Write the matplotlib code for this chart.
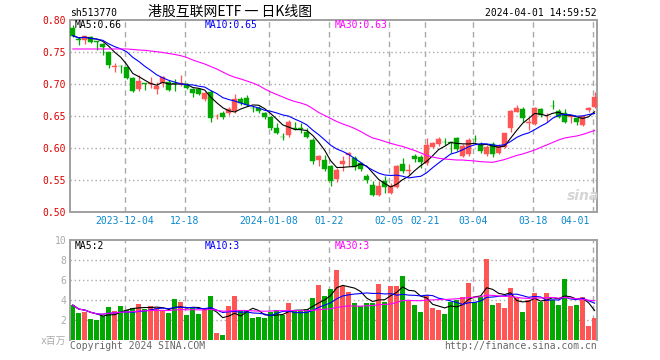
import numpy as np
import pandas as pd
import matplotlib
matplotlib.use('Agg')
import matplotlib.pyplot as plt
from matplotlib.transforms import blended_transform_factory

# daily candles
opens = [0.7875, 0.7710, 0.7690, 0.7744, 0.7670, 0.7630, 0.7500, 0.7270, 0.7290, 0.7266,
         0.7100, 0.6922, 0.7016, 0.7000, 0.6926, 0.7016, 0.7031, 0.7016, 0.7010, 0.7010,
         0.6922, 0.6922, 0.6766, 0.6885, 0.6500, 0.6557, 0.6547, 0.6583, 0.6765, 0.6781,
         0.6636, 0.6636, 0.6547, 0.6484, 0.6323, 0.6183, 0.6203, 0.6313, 0.6310, 0.6261,
         0.6132, 0.5820, 0.5820, 0.5716, 0.5518, 0.5752, 0.5898, 0.5846, 0.5768, 0.5570,
         0.5430, 0.5268, 0.5492, 0.5300, 0.5393, 0.5757, 0.5648, 0.5880, 0.5870, 0.5767,
         0.6027, 0.6063, 0.6097, 0.6094, 0.6167, 0.5886, 0.5912, 0.6149, 0.6053, 0.5912,
         0.6063, 0.5923, 0.6027, 0.6323, 0.6573, 0.6614, 0.6401, 0.6375, 0.6609, 0.6505,
         0.6661, 0.6583, 0.6547, 0.6490, 0.6469, 0.6365, 0.6599, 0.6651]
highs = [0.7927, 0.7745, 0.7755, 0.7760, 0.7680, 0.7650, 0.7510, 0.7330, 0.7300, 0.7280,
         0.7115, 0.7145, 0.7020, 0.7110, 0.7040, 0.7125, 0.7073, 0.7080, 0.7150, 0.7025,
         0.6940, 0.6935, 0.6885, 0.6911, 0.6536, 0.6589, 0.6651, 0.6849, 0.6807, 0.6833,
         0.6667, 0.6667, 0.6573, 0.6505, 0.6391, 0.6234, 0.6443, 0.6417, 0.6391, 0.6313,
         0.6158, 0.5898, 0.5898, 0.5742, 0.5690, 0.5872, 0.5939, 0.5872, 0.5778, 0.5601,
         0.5492, 0.5482, 0.5560, 0.5450, 0.5742, 0.5846, 0.5752, 0.5908, 0.5900, 0.6157,
         0.6094, 0.6183, 0.6157, 0.6115, 0.6183, 0.6063, 0.6157, 0.6209, 0.6094, 0.6053,
         0.6094, 0.6063, 0.6245, 0.6599, 0.6677, 0.6651, 0.6469, 0.6651, 0.6625, 0.6557,
         0.6755, 0.6614, 0.6614, 0.6521, 0.6479, 0.6521, 0.6651, 0.6875]
lows = [0.7740, 0.7615, 0.7630, 0.7650, 0.7540, 0.7450, 0.7260, 0.7200, 0.7170, 0.7080,
        0.6885, 0.6895, 0.6910, 0.6937, 0.6850, 0.6960, 0.6895, 0.6895, 0.6980, 0.6930,
        0.6807, 0.6840, 0.6745, 0.6417, 0.6453, 0.6458, 0.6521, 0.6557, 0.6677, 0.6661,
        0.6573, 0.6547, 0.6458, 0.6286, 0.6224, 0.6130, 0.6177, 0.6286, 0.6245, 0.6156,
        0.5757, 0.5726, 0.5653, 0.5404, 0.5466, 0.5653, 0.5726, 0.5664, 0.5653, 0.5456,
        0.5248, 0.5248, 0.5300, 0.5280, 0.5378, 0.5612, 0.5586, 0.5783, 0.5690, 0.5741,
        0.6011, 0.6042, 0.6053, 0.5923, 0.5964, 0.5871, 0.5886, 0.6105, 0.5923, 0.5886,
        0.5871, 0.5907, 0.6011, 0.6261, 0.6562, 0.6417, 0.6287, 0.6365, 0.6495, 0.6417,
        0.6614, 0.6469, 0.6391, 0.6391, 0.6365, 0.6349, 0.6573, 0.6635]
closes = [0.7760, 0.7690, 0.7755, 0.7666, 0.7660, 0.7590, 0.7300, 0.7280, 0.7280, 0.7094,
          0.6895, 0.7052, 0.7000, 0.7015, 0.6973, 0.7119, 0.6911, 0.7000, 0.7020, 0.6947,
          0.6869, 0.6850, 0.6860, 0.6469, 0.6510, 0.6484, 0.6609, 0.6765, 0.6703, 0.6677,
          0.6630, 0.6589, 0.6495, 0.6323, 0.6245, 0.6177, 0.6417, 0.6308, 0.6305, 0.6183,
          0.5794, 0.5882, 0.5679, 0.5482, 0.5664, 0.5804, 0.5924, 0.5705, 0.5674, 0.5508,
          0.5274, 0.5404, 0.5393, 0.5404, 0.5716, 0.5638, 0.5658, 0.5840, 0.5790, 0.6053,
          0.6079, 0.6141, 0.6092, 0.6089, 0.5985, 0.6042, 0.6131, 0.6144, 0.5964, 0.6027,
          0.5907, 0.6042, 0.6235, 0.6583, 0.6625, 0.6469, 0.6412, 0.6635, 0.6521, 0.6510,
          0.6656, 0.6495, 0.6417, 0.6495, 0.6406, 0.6510, 0.6635, 0.6807]
# 30-day average
ma30_price = [0.7552, 0.7552, 0.7552, 0.7552, 0.7552, 0.7552, 0.7552, 0.7552, 0.7552, 0.7552,
              0.7544, 0.7536, 0.7531, 0.7520, 0.7509, 0.7497, 0.7481, 0.7466, 0.7447, 0.7419,
              0.7380, 0.7348, 0.7317, 0.7278, 0.7239, 0.7192, 0.7145, 0.7110, 0.7083, 0.7052,
              0.7020, 0.6981, 0.6927, 0.6880, 0.6841, 0.6802, 0.6763, 0.6731, 0.6708, 0.6677,
              0.6622, 0.6559, 0.6513, 0.6466, 0.6419, 0.6380, 0.6348, 0.6309, 0.6263, 0.6208,
              0.6161, 0.6138, 0.6106, 0.6078, 0.6052, 0.6028, 0.5997, 0.5966, 0.5927, 0.5888,
              0.5864, 0.5844, 0.5833, 0.5825, 0.5817, 0.5817, 0.5809, 0.5802, 0.5791, 0.5786,
              0.5781, 0.5802, 0.5825, 0.5856, 0.5888, 0.5911, 0.5942, 0.5973, 0.6013, 0.6052,
              0.6091, 0.6130, 0.6161, 0.6177, 0.6192, 0.6216, 0.6247, 0.6278]
# volume, millions
volumes = [3.5, 2.7, 2.8, 2.1, 2.0, 2.4, 3.3, 2.9, 3.4, 3.0,
           3.2, 3.6, 3.1, 3.4, 3.2, 2.9, 2.7, 4.1, 3.8, 2.5,
           3.3, 2.6, 3.0, 4.4, 0.7, 0.5, 3.4, 4.4, 3.0, 2.9,
           2.2, 2.3, 2.2, 2.8, 3.0, 2.5, 3.7, 2.9, 2.9, 3.1,
           4.2, 5.5, 4.4, 5.1, 7.0, 5.4, 4.8, 3.7, 3.4, 3.7,
           3.7, 5.6, 3.8, 5.4, 5.4, 6.4, 3.9, 3.5, 2.8, 4.5,
           3.2, 3.0, 2.6, 3.8, 4.0, 4.3, 5.7, 3.8, 4.3, 8.1,
           3.5, 3.7, 3.2, 5.2, 4.2, 2.8, 4.0, 4.7, 3.8, 4.7,
           4.0, 3.5, 6.1, 3.4, 3.5, 4.3, 1.4, 2.2]

holidays = ['2024-01-01', '2024-02-09', '2024-02-12', '2024-02-13',
            '2024-02-14', '2024-02-15', '2024-02-16']
tick_dates = ['2023-12-04', '2023-12-18', '2024-01-08', '2024-01-22', '2024-02-05',
              '2024-02-21', '2024-03-04', '2024-03-18', '2024-04-01']
tick_labels = ['2023-12-04', '12-18', '2024-01-08', '01-22', '02-05',
               '02-21', '03-04', '03-18', '04-01']
price_ticks = [0.50, 0.55, 0.60, 0.65, 0.70, 0.75, 0.80]
vol_ticks = [0, 2, 4, 6, 8, 10]
vol_tick_labels = ['x百万', '2', '4', '6', '8', '10']

dates = pd.bdate_range('2023-11-21', '2024-04-01')
dates = dates[~dates.isin(pd.to_datetime(holidays))]
x = np.arange(len(dates))
tick_pos = [dates.get_loc(pd.Timestamp(d)) for d in tick_dates]

o, h, l, c = map(np.array, (opens, highs, lows, closes))
vol = np.array(volumes)
RED, GREEN = '#ff5555', '#00a800'
cols = np.where(c >= o, RED, GREEN)

ma5 = pd.Series(c).rolling(5, min_periods=1).mean()
ma10 = pd.Series(c).rolling(10, min_periods=1).mean()
vma5 = pd.Series(vol).rolling(5, min_periods=1).mean()
vma10 = pd.Series(vol).rolling(10, min_periods=1).mean()
vma30 = pd.Series(vol).rolling(30, min_periods=1).mean()

plt.rcParams['font.family'] = ['DejaVu Sans Mono', 'Noto Sans CJK SC']
FS = 7
GRID = '#aaaaaa'

fig = plt.figure(figsize=(6.6, 3.6), dpi=100)
W, H = 660.0, 360.0
ax1 = fig.add_axes([70.3 / W, 1 - 212.3 / H, 527.0 / W, 192.0 / H])
ax2 = fig.add_axes([70.3 / W, 1 - 340.0 / H, 527.0 / W, 99.7 / H])

xmin, xmax = -0.42, 87.45
for ax in (ax1, ax2):
    ax.set_xlim(xmin, xmax)
    ax.set_xticks([])
    for s in ax.spines.values():
        s.set_color('#a0a0a0')
        s.set_linewidth(1.4)
    for p in tick_pos:
        ax.axvline(p - 0.3, color=GRID, lw=1, ls=(0, (4, 3)), zorder=0)
    ax.tick_params(axis='y', length=0, pad=3)

# price panel
ax1.set_ylim(0.50, 0.80)
ax1.set_yticks(price_ticks)
ax1.set_yticklabels(['%.2f' % v for v in price_ticks], color='#e00000', fontsize=FS)
for v in price_ticks[1:-1]:
    ax1.axhline(v, color=GRID, lw=1, ls=(0, (1, 2)), zorder=0)

ax1.vlines(x, l, h, colors=cols, lw=0.9, zorder=2)
ax1.bar(x, np.maximum(np.abs(c - o), 0.0007), bottom=np.minimum(o, c), width=0.8,
        color=cols, edgecolor=cols, lw=0.3, zorder=3)
ax1.plot(x, ma5, color='black', lw=0.8, zorder=4)
ax1.plot(x, ma10, color='#0000ff', lw=0.8, zorder=4)
ax1.plot(x, ma30_price, color='#ff00ff', lw=0.8, zorder=4)

tr = blended_transform_factory(ax1.transData, ax1.transAxes)
for p, lab in zip(tick_pos, tick_labels):
    if p == tick_pos[-1]:
        ax1.text(p - 0.75, -0.046, lab, transform=tr, ha='right', va='center',
                 color='#0a88cc', fontsize=FS)
    else:
        ax1.text(p - 0.3, -0.046, lab, transform=tr, ha='center', va='center',
                 color='#0a88cc', fontsize=FS)

fig.text(583 / W, 1 - 196 / H, 'sina', ha='center', va='center', fontsize=10,
         fontweight='bold', fontstyle='italic', color='#d5d5d5', family='DejaVu Sans')

# volume panel
ax2.set_ylim(0, 10)
ax2.spines['bottom'].set_visible(False)
ax2.set_yticks(vol_ticks)
ax2.set_yticklabels(vol_tick_labels, color='#aaaaaa', fontsize=FS)
for v in vol_ticks[1:-1]:
    ax2.axhline(v, color=GRID, lw=1, ls=(0, (1, 2)), zorder=0)
ax2.bar(x, vol, width=0.83, color=cols, zorder=2)
ax2.plot(x, vma5, color='black', lw=0.8, zorder=4)
ax2.plot(x, vma10, color='#0000ff', lw=0.8, zorder=4)
ax2.plot(x, vma30, color='#ff00ff', lw=0.8, zorder=4)


def put(px, py, s, size=FS, **kw):
    fig.text(px / W, 1 - py / H, s, va='center', fontsize=size, **kw)


put(70, 13, 'sh513770', color='black')
put(230, 12, '港股互联网ETF 一 日K线图', ha='center', size=10,
    family=['Noto Sans CJK SC', 'DejaVu Sans'])
put(597, 13, '2024-04-01 14:59:52', ha='right', color='black')
put(75, 25.5, 'MA5:0.66', color='black')
put(205, 25.5, 'MA10:0.65', color='#0000ff')
put(335, 25.5, 'MA30:0.63', color='#ff00ff')
put(75, 246, 'MA5:2', color='black')
put(205, 246, 'MA10:3', color='#0000ff')
put(335, 246, 'MA30:3', color='#ff00ff')
put(70, 346, 'Copyright 2024 SINA.COM', color='#666666')
put(597, 346, 'http://finance.sina.com.cn', ha='right', color='#666666')

fig.savefig('out.png', dpi=100)
